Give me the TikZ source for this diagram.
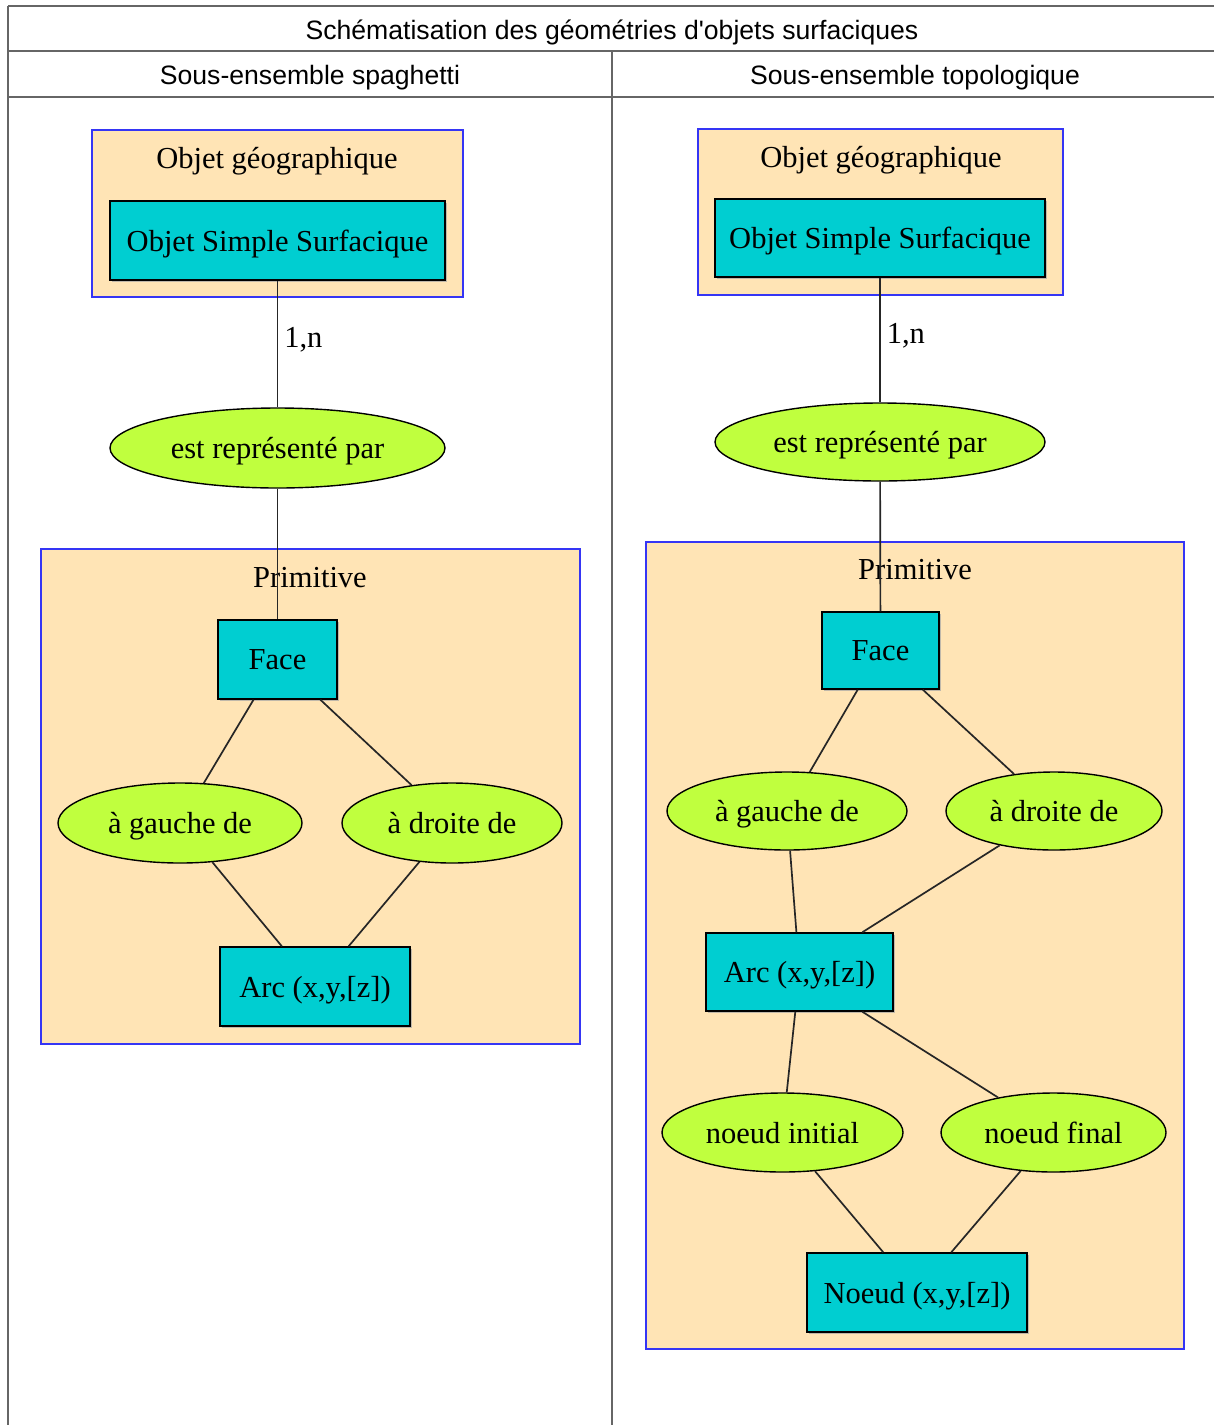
\documentclass[tikz,border=0pt]{standalone}
\usepackage{fontspec}
\setmainfont{Liberation Serif}
\newfontfamily\hdrfont{Liberation Sans}
\usetikzlibrary{shapes.geometric,shadows}
\definecolor{clfill}{HTML}{FFE4B5}
\definecolor{clblue}{HTML}{3535F5}
\definecolor{boxfill}{HTML}{00CED1}
\definecolor{ellfill}{HTML}{C0FF3E}
\begin{document}
\begin{tikzpicture}[x=1pt,y=-1pt,
  gvfont/.style={font=\fontsize{30.5}{32}\selectfont, text depth=0pt},
  cluster/.style={draw=clblue, fill=clfill, line width=1.6pt},
  cltext/.style={gvfont, inner sep=0pt},
  rbox/.style={rectangle, draw=black, fill=boxfill, line width=1.5pt, inner sep=0pt,
    gvfont,
    drop shadow={shadow xshift=1.5pt, shadow yshift=-1.5pt, fill=black!35, opacity=0.7}},
  rell/.style={ellipse, draw=black, fill=ellfill, line width=1.4pt, inner sep=0pt,
    gvfont},
  link/.style={line width=1.7pt, draw=black!85},
  tline/.style={draw=black!60, line width=1.5pt},
  hd/.style={font=\hdrfont\fontsize{26.6}{28}\selectfont, inner sep=0pt, text depth=0pt}
]
\useasboundingbox (0,0) rectangle (1214,1425);
\fill[white] (0,0) rectangle (1214,1425);

% table
\draw[tline] (8,6) -- (1214,6);
\draw[tline] (8,51) -- (1214,51);
\draw[tline] (8,97) -- (1214,97);
\draw[tline] (8,6) -- (8,1425);
\draw[tline] (612,51) -- (612,1425);
\node[hd] (title) at (612,30) {Schématisation des géométries d\textquotesingle objets surfaciques};
\node[hd] (hleft) at (310,75) {Sous-ensemble spaghetti};
\node[hd] (hright) at (915,75) {Sous-ensemble topologique};

% ---------- left diagram ----------
\draw[cluster] (92,130) rectangle (463,297);
\node[cltext] (lgeo) at (277,158) {Objet géographique};
\draw[cluster] (41,549) rectangle (580,1044);
\node[cltext] (lprim) at (310,577) {Primitive};

\node[rbox, minimum width=335pt, minimum height=79pt] (loss) at (277.5,240.5) {Objet Simple Surfacique};
\node[rell, minimum width=335pt, minimum height=80pt] (lrep) at (277.5,448) {est représenté par};
\node[rbox, minimum width=119pt, minimum height=79pt] (lface) at (277.5,659.5) {Face};
\node[rell, minimum width=244pt, minimum height=80pt] (lgau) at (180,823) {à gauche de};
\node[rell, minimum width=220pt, minimum height=80pt] (ldro) at (452,823) {à droite de};
\node[rbox, minimum width=190pt, minimum height=79pt] (larc) at (315,986.5) {Arc (x,y,[z])};

\draw[link] (loss) -- node[right, gvfont, inner sep=6pt, pos=0.45] {1,n} (lrep);
\draw[link] (lrep) -- (lface);
\draw[link] (lface) -- (lgau);
\draw[link] (lface) -- (ldro);
\draw[link] (lgau) -- (larc);
\draw[link] (ldro) -- (larc);

% ---------- right diagram ----------
\draw[cluster] (698,129) rectangle (1063,295);
\node[cltext] (rgeo) at (881,157) {Objet géographique};
\draw[cluster] (646,542) rectangle (1184,1349);
\node[cltext] (rprim) at (915,569) {Primitive};

\node[rbox, minimum width=330pt, minimum height=78pt] (ross) at (880,238) {Objet Simple Surfacique};
\node[rell, minimum width=330pt, minimum height=78pt] (rrep) at (880,442) {est représenté par};
\node[rbox, minimum width=117pt, minimum height=77pt] (rface) at (880.5,650.5) {Face};
\node[rell, minimum width=240pt, minimum height=78pt] (rgau) at (787,811) {à gauche de};
\node[rell, minimum width=216pt, minimum height=78pt] (rdro) at (1054,811) {à droite de};
\node[rbox, minimum width=187pt, minimum height=78pt] (rarc) at (799.5,972) {Arc (x,y,[z])};
\node[rell, minimum width=241pt, minimum height=79pt] (rini) at (782.5,1132.5) {noeud initial};
\node[rell, minimum width=225pt, minimum height=79pt] (rfin) at (1053.5,1132.5) {noeud final};
\node[rbox, minimum width=220pt, minimum height=79pt] (rnoe) at (917,1292.5) {Noeud (x,y,[z])};

\draw[link] (ross) -- node[right, gvfont, inner sep=6pt, pos=0.45] {1,n} (rrep);
\draw[link] (rrep) -- (rface);
\draw[link] (rface) -- (rgau);
\draw[link] (rface) -- (rdro);
\draw[link] (rgau) -- (rarc);
\draw[link] (rdro) -- (rarc);
\draw[link] (rarc) -- (rini);
\draw[link] (rarc) -- (rfin);
\draw[link] (rini) -- (rnoe);
\draw[link] (rfin) -- (rnoe);
\end{tikzpicture}
\end{document}
